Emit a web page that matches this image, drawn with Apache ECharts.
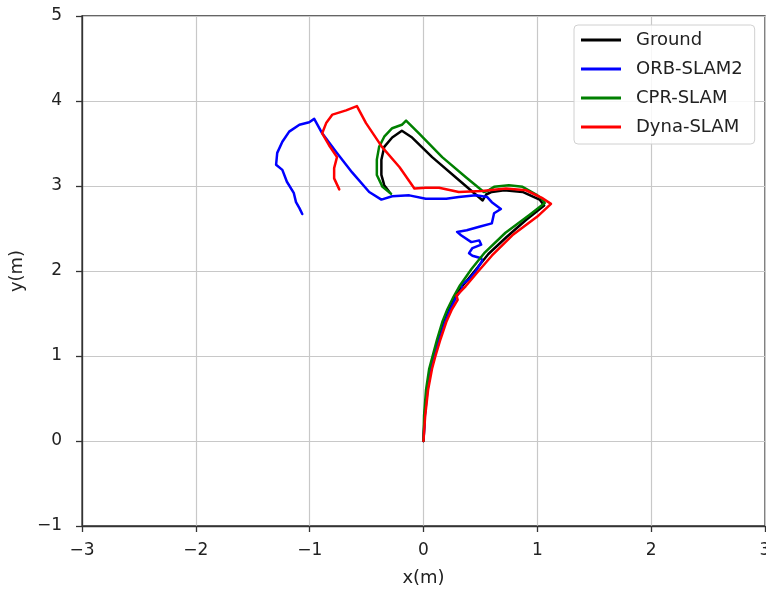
<!DOCTYPE html>
<html>
<head>
<meta charset="utf-8">
<script src="https://cdn.jsdelivr.net/npm/echarts@6/dist/echarts.min.js"></script>
<style>
  html, body { margin: 0; padding: 0; background: #fff; }
  #chart { width: 766px; height: 589px; }
</style>
</head>
<body>
<div id="chart"></div>
<script>
  // trajectories, [x, y] in metres
  var seriesNames = ['Ground', 'ORB-SLAM2', 'CPR-SLAM', 'Dyna-SLAM'];
  var seriesColors = ['#000000', '#0000ff', '#008000', '#ff0000'];

  var groundPath = [
    [0, 0], [0.01, 0.3], [0.03, 0.6], [0.06, 0.85], [0.09, 1.0], [0.13, 1.2],
    [0.18, 1.4], [0.225, 1.55], [0.28, 1.7], [0.34, 1.82], [0.45, 2.0], [0.57, 2.2],
    [0.73, 2.4], [0.9, 2.6], [1.06, 2.77],
    [1.02, 2.84], [0.87, 2.93], [0.71, 2.95], [0.6, 2.93], [0.55, 2.9], [0.52, 2.83],
    [0.31, 3.07], [0.076, 3.34], [-0.1, 3.57], [-0.19, 3.65], [-0.275, 3.57],
    [-0.345, 3.46], [-0.37, 3.31], [-0.37, 3.13], [-0.345, 3.01], [-0.3, 2.93]
  ];

  var orbPath = [
    [0, 0], [0.012, 0.3], [0.035, 0.6], [0.065, 0.85], [0.095, 1.0], [0.14, 1.2],
    [0.19, 1.4], [0.235, 1.55], [0.29, 1.7], [0.34, 1.79], [0.33, 1.84], [0.4, 1.9],
    [0.46, 2.0], [0.515, 2.12],
    [0.507, 2.15], [0.43, 2.18], [0.4, 2.21], [0.43, 2.27], [0.507, 2.31], [0.49, 2.36],
    [0.42, 2.34], [0.33, 2.42], [0.295, 2.46], [0.38, 2.48], [0.49, 2.52], [0.6, 2.56],
    [0.62, 2.68], [0.68, 2.73], [0.6, 2.81], [0.56, 2.87], [0.46, 2.89], [0.31, 2.87],
    [0.2, 2.85], [0.02, 2.85], [-0.125, 2.89], [-0.275, 2.88], [-0.37, 2.84],
    [-0.477, 2.93], [-0.627, 3.16], [-0.767, 3.4], [-0.89, 3.62], [-0.96, 3.79],
    [-1.004, 3.75], [-1.09, 3.72], [-1.18, 3.64], [-1.24, 3.52], [-1.285, 3.39],
    [-1.295, 3.25], [-1.24, 3.19], [-1.2, 3.05], [-1.14, 2.92], [-1.12, 2.81],
    [-1.09, 2.74], [-1.065, 2.67]
  ];

  var cprPath = [
    [0, 0], [0.005, 0.3], [0.022, 0.6], [0.05, 0.85], [0.08, 1.0], [0.12, 1.2],
    [0.165, 1.4], [0.21, 1.55], [0.265, 1.7], [0.32, 1.83], [0.42, 2.02], [0.54, 2.22],
    [0.72, 2.45], [0.93, 2.66], [1.065, 2.8],
    [1.04, 2.85], [0.99, 2.9], [0.87, 2.99], [0.75, 3.01], [0.62, 2.99], [0.56, 2.94],
    [0.53, 2.93], [0.375, 3.1], [0.164, 3.34], [-0.04, 3.62], [-0.153, 3.77],
    [-0.19, 3.72], [-0.275, 3.68], [-0.345, 3.58], [-0.39, 3.46], [-0.41, 3.31],
    [-0.41, 3.13], [-0.36, 2.99], [-0.285, 2.91]
  ];

  var dynaPath = [
    [0, 0], [0.015, 0.3], [0.04, 0.6], [0.075, 0.85], [0.105, 1.0], [0.15, 1.2],
    [0.2, 1.4], [0.25, 1.55], [0.3, 1.66], [0.29, 1.71], [0.37, 1.82], [0.47, 1.98],
    [0.6, 2.18], [0.78, 2.42], [1.0, 2.64], [1.12, 2.79],
    [1.04, 2.86], [0.9, 2.95], [0.725, 2.97], [0.515, 2.94], [0.31, 2.93],
    [0.137, 2.98], [0.02, 2.98], [-0.08, 2.97],
    [-0.21, 3.22], [-0.365, 3.46], [-0.505, 3.74], [-0.585, 3.94], [-0.68, 3.89],
    [-0.8, 3.84], [-0.855, 3.74], [-0.89, 3.62], [-0.83, 3.48], [-0.76, 3.34],
    [-0.785, 3.21], [-0.785, 3.09], [-0.74, 2.96]
  ];

  var xTicks = [-3, 3, 1];   // min, max, interval
  var yTicks = [-1, 5, 1];

  var font = 'DejaVu Sans';
  var minus = function (v) { return String(v).replace('-', '\u2212'); };

  var chart = echarts.init(document.getElementById('chart'));
  var paths = [groundPath, orbPath, cprPath, dynaPath];

  chart.setOption({
    animation: false,
    grid: {
      left: 82, right: 1, top: 16, bottom: 63,
      outerBoundsMode: 'none',
      containLabel: false,
      show: true, borderColor: '#333', borderWidth: 1.3
    },
    legend: {
      orient: 'vertical',
      left: 574, top: 25,
      padding: [6, 12, 8, 7],
      itemWidth: 40, itemHeight: 3, itemGap: 11,
      icon: 'rect',
      borderColor: '#d0d0d0', borderWidth: 1, borderRadius: 4,
      backgroundColor: 'rgba(255,255,255,0.85)',
      textStyle: {
        fontFamily: font, fontSize: 18, color: '#222',
        lineHeight: 18, padding: [0, 0, 0, 10]
      },
      data: seriesNames
    },
    xAxis: {
      type: 'value', min: xTicks[0], max: xTicks[1], interval: xTicks[2],
      name: 'x(m)', nameLocation: 'middle', nameGap: 43,
      nameTextStyle: { fontFamily: font, fontSize: 18, color: '#222' },
      axisLine: { onZero: false, lineStyle: { color: '#333', width: 1.3 } },
      axisTick: { length: 6, lineStyle: { color: '#333', width: 1.3 } },
      axisLabel: { fontFamily: font, fontSize: 17, color: '#222', margin: 16, formatter: minus },
      splitLine: { lineStyle: { color: '#c8c8c8', width: 1.2 } }
    },
    yAxis: {
      type: 'value', min: yTicks[0], max: yTicks[1], interval: yTicks[2],
      name: 'y(m)', nameLocation: 'middle', nameGap: 56,
      nameTextStyle: { fontFamily: font, fontSize: 18, color: '#222' },
      axisLine: { onZero: false, lineStyle: { color: '#333', width: 1.3 } },
      axisTick: { length: 6, lineStyle: { color: '#333', width: 1.3 } },
      axisLabel: { fontFamily: font, fontSize: 17, color: '#222', margin: 20, formatter: minus },
      splitLine: { lineStyle: { color: '#c8c8c8', width: 1.2 } }
    },
    series: seriesNames.map(function (name, i) {
      return {
        name: name,
        type: 'line',
        data: paths[i],
        showSymbol: false,
        symbol: 'none',
        color: seriesColors[i],
        lineStyle: { color: seriesColors[i], width: 2.5, join: 'round', cap: 'round' }
      };
    })
  });
</script>
</body>
</html>
